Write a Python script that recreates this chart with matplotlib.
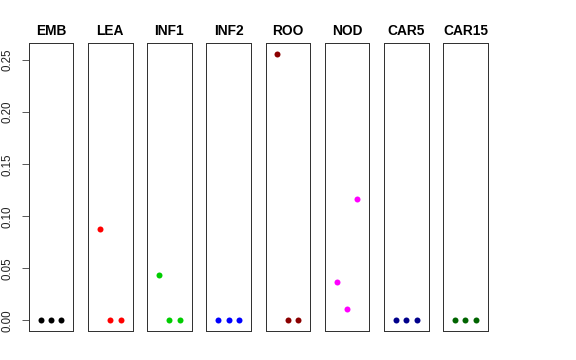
import matplotlib
matplotlib.use("Agg")
import matplotlib.pyplot as plt

plt.rcParams['font.family'] = ['Liberation Sans', 'DejaVu Sans']

# ---- data ----
tissues = ["EMB", "LEA", "INF1", "INF2", "ROO", "NOD", "CAR5", "CAR15"]
colors = ["black", "red", "#00CD00", "blue", "#8B0000", "magenta", "#00008B", "#006400"]
x_pos = [1, 2, 3]
vals_emb = [0.0, 0.0, 0.0]
vals_lea = [0.088, 0.0, 0.0]
vals_inf1 = [0.044, 0.0, 0.0]
vals_inf2 = [0.0, 0.0, 0.0]
vals_roo = [0.256, 0.0, 0.0]
vals_nod = [0.0365, 0.0105, 0.117]
vals_car5 = [0.0, 0.0, 0.0]
vals_car15 = [0.0, 0.0, 0.0]
all_vals = [vals_emb, vals_lea, vals_inf1, vals_inf2, vals_roo, vals_nod, vals_car5, vals_car15]
yticks = [0.00, 0.05, 0.10, 0.15, 0.20, 0.25]

# R style limits (4% padding)
ymax = max(max(v) for v in all_vals)
ypad = 0.04 * ymax
xlo, xhi = 0, 4
xpad = 0.04 * (xhi - xlo)

W, H = 576, 360
fig = plt.figure(figsize=(W / 72, H / 72), dpi=72)

left0, step, width = 28.7, 59.2, 44.6
top, bottom = 43.3, 331.0

for i, (name, col, vals) in enumerate(zip(tissues, colors, all_vals)):
    left = left0 + i * step
    ax = fig.add_axes([left / W, 1 - bottom / H, width / W, (bottom - top) / H])
    ax.plot(x_pos, vals, 'o', color=col, markersize=6, markeredgewidth=0)
    ax.set_xlim(xlo - xpad, xhi + xpad)
    ax.set_ylim(-ypad, ymax + ypad)
    ax.set_xticks([])
    ax.set_title(name, fontsize=13.8, fontweight='bold', pad=8.5)
    for s in ax.spines.values():
        s.set_color('#333333')
        s.set_linewidth(1.0)
    if i == 0:
        ax.set_yticks(yticks)
        ax.set_yticklabels([f"{t:.2f}" for t in yticks], rotation=90, va='center', fontsize=11.5)
        ax.tick_params(axis='y', direction='out', length=7, width=0.8, pad=8, colors='#333333', labelcolor='#222222')
    else:
        ax.set_yticks([])

fig.savefig("out.png", dpi=72)
